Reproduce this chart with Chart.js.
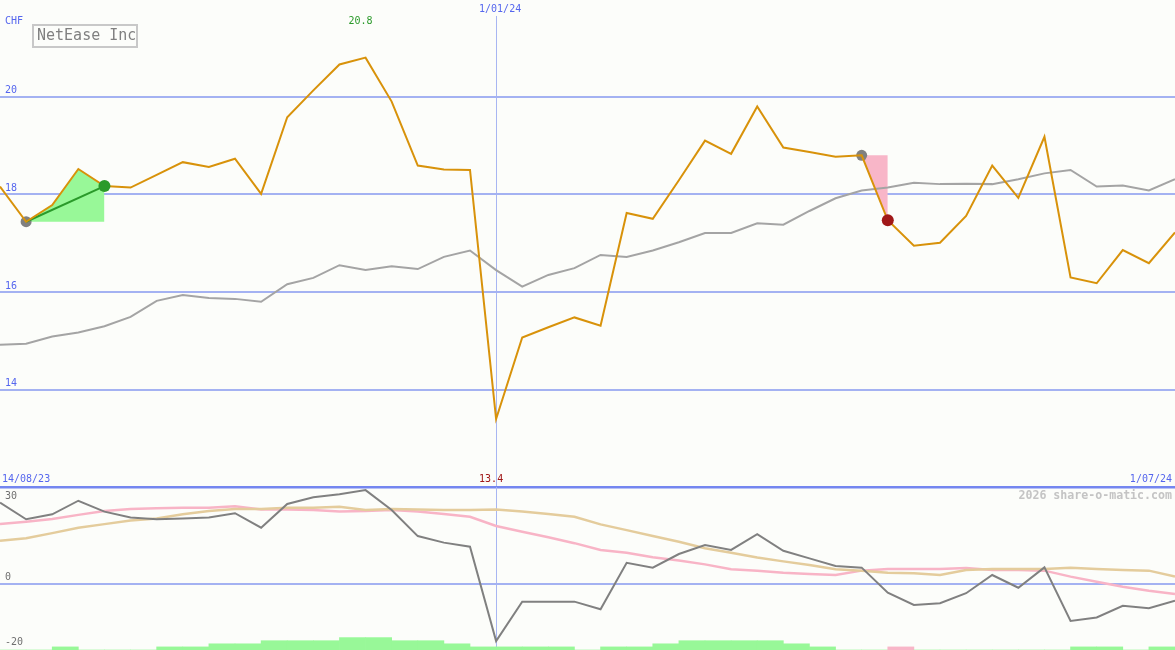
<!DOCTYPE html>
<html>
<head>
<meta charset="utf-8">
<script src="https://cdn.jsdelivr.net/npm/chart.js@4.4.1/dist/chart.umd.min.js"></script>
<style>
html, body { margin: 0; padding: 0; background: #fcfdfa; }
#wrap { position: relative; width: 1175px; height: 650px; overflow: hidden; background: #fcfdfa; }
#priceChart { position: absolute; left: 0; top: 0; }
#oscChart { position: absolute; left: 0; top: 487px; }
</style>
</head>
<body>
<div id="wrap">
  <canvas id="priceChart" width="1175" height="490"></canvas>
  <canvas id="oscChart" width="1175" height="163"></canvas>
</div>
<script>
// weekly closes, 14/08/23 .. 1/07/24
const company = 'NetEase Inc';
const currency = 'CHF';
const firstDate = '14/08/23';
const markDate = '1/01/24';
const lastDate = '1/07/24';
const markIndex = 19;

const price = [18.16, 17.44, 17.78, 18.52, 18.17, 18.14, 18.40, 18.66, 18.56, 18.73,
               18.01, 19.58, 20.13, 20.66, 20.80, 19.90, 18.59, 18.51, 18.50, 13.40,
               15.07, 15.28, 15.48, 15.31, 17.62, 17.50, 18.29, 19.10, 18.83, 19.80,
               18.96, 18.87, 18.77, 18.80, 17.47, 16.95, 17.01, 17.56, 18.59, 17.93,
               19.18, 16.30, 16.18, 16.86, 16.59, 17.22];
const average = [14.92, 14.94, 15.09, 15.17, 15.30, 15.49, 15.82, 15.94, 15.88, 15.86,
                 15.80, 16.16, 16.29, 16.55, 16.45, 16.53, 16.47, 16.72, 16.85, 16.45,
                 16.11, 16.35, 16.49, 16.76, 16.72, 16.85, 17.02, 17.21, 17.21, 17.41,
                 17.38, 17.66, 17.92, 18.08, 18.14, 18.24, 18.21, 18.22, 18.21, 18.31,
                 18.43, 18.50, 18.16, 18.18, 18.08, 18.31];
const priceTicks = [14, 16, 18, 20];

// buy / sell signals (index into price)
const buyStart = 1, buyEnd = 4;
const sellStart = 33, sellEnd = 34;

// lower panel
const oscFast = [29.8, 23.7, 25.5, 30.5, 26.5, 24.3, 23.7, 24.0, 24.3, 25.9,
                 20.6, 29.3, 31.8, 32.9, 34.4, 27.1, 17.5, 15.1, 13.6, -21.1,
                 -6.6, -6.6, -6.6, -9.4, 7.7, 5.9, 10.9, 14.2, 12.4, 18.2,
                 12.1, 9.3, 6.5, 5.9, -3.3, -7.8, -7.2, -3.5, 3.2, -1.5,
                 6.0, -13.7, -12.4, -8.1, -9.0, -6.3];
const oscSlow = [21.9, 22.8, 23.8, 25.3, 26.7, 27.5, 27.7, 27.9, 27.9, 28.5,
                 27.3, 27.3, 27.1, 26.5, 26.7, 27.1, 26.5, 25.6, 24.6, 21.2,
                 19.1, 17.1, 14.9, 12.4, 11.4, 9.7, 8.5, 7.1, 5.3, 4.8,
                 4.0, 3.6, 3.2, 4.8, 5.4, 5.4, 5.4, 5.8, 5.0, 5.0,
                 4.8, 2.6, 0.7, -1.1, -2.6, -3.8];
const oscSignal = [15.8, 16.7, 18.6, 20.6, 21.9, 23.2, 24.0, 25.5, 26.7, 27.5,
                   27.5, 27.9, 27.9, 28.3, 27.1, 27.5, 27.3, 27.1, 27.1, 27.3,
                   26.5, 25.6, 24.6, 21.8, 19.7, 17.5, 15.4, 13.0, 11.4, 9.6,
                   8.2, 6.9, 5.3, 4.8, 4.0, 3.8, 3.2, 5.0, 5.4, 5.4,
                   5.4, 5.9, 5.4, 5.0, 4.8, 2.6];
const oscTicks = [30, 0, -20];

// bottom strip, one value per week interval
const volumeLevel = [0, 0, 1, 0, 0, 0, 1, 1, 2, 2,
                     3, 3, 3, 4, 4, 3, 3, 2, 1, 1,
                     1, 1, 0, 1, 1, 2, 3, 3, 3, 3,
                     2, 1, 0, 0, 1, 0, 0, 0, 0, 0,
                     0, 1, 1, 0, 1];
const volumeSell = [34];

const FONT = '"DejaVu Sans Mono", monospace';
const BLUE = '#5566ee';

const pts = (arr, a, b) => arr.slice(a, b + 1).map((v, k) => ({ x: a + k, y: v }));
const maxIdx = price.indexOf(Math.max(...price));
const minIdx = price.indexOf(Math.min(...price));

const priceText = {
  id: 'priceText',
  afterDraw(chart) {
    const ctx = chart.ctx;
    const xs = chart.scales.x;
    const ys = chart.scales.y;
    ctx.save();
    ctx.textBaseline = 'middle';
    ctx.font = '10px ' + FONT;
    ctx.fillStyle = BLUE;
    ctx.textAlign = 'left';
    ctx.fillText(currency, 5, 21);
    priceTicks.forEach(v => ctx.fillText(String(v), 5, ys.getPixelForValue(v) - 6));
    ctx.fillText(firstDate, 2, 479);
    ctx.textAlign = 'center';
    ctx.fillText(markDate, xs.getPixelForValue(markIndex) + 4, 9);
    ctx.textAlign = 'right';
    ctx.fillText(lastDate, 1172, 479);
    ctx.textAlign = 'center';
    ctx.fillStyle = '#2a9a2a';
    ctx.fillText(price[maxIdx].toFixed(1), xs.getPixelForValue(maxIdx) - 5, 21);
    ctx.fillStyle = '#a01818';
    ctx.fillText(price[minIdx].toFixed(1), xs.getPixelForValue(minIdx) - 5, 479);
    // title box
    ctx.fillStyle = '#fcfdfa';
    ctx.fillRect(33, 25, 104, 22);
    ctx.strokeStyle = '#c8c8c8';
    ctx.lineWidth = 2;
    ctx.strokeRect(33, 25, 104, 22);
    ctx.fillStyle = '#808080';
    ctx.font = '15px ' + FONT;
    ctx.textAlign = 'left';
    ctx.fillText(company, 37, 36.5);
    ctx.restore();
  }
};

new Chart(document.getElementById('priceChart'), {
  type: 'line',
  data: {
    datasets: [
      { // exit / confirm dots
        data: [{ x: buyEnd, y: price[buyEnd] }, { x: sellEnd, y: price[sellEnd] }],
        showLine: false, pointRadius: 6, pointBorderWidth: 0,
        pointBackgroundColor: ['#2a9a2a', '#a01818']
      },
      {
        data: pts(price, 0, price.length - 1),
        borderColor: '#d8920a', borderWidth: 2, pointRadius: 0, tension: 0
      },
      {
        data: [{ x: buyStart, y: price[buyStart] }, { x: buyEnd, y: price[buyEnd] }],
        borderColor: '#2a9a2a', borderWidth: 2, pointRadius: 0
      },
      { // entry dots
        data: [{ x: buyStart, y: price[buyStart] }, { x: sellStart, y: price[sellStart] }],
        showLine: false, pointRadius: 5.5, pointBorderWidth: 0,
        pointBackgroundColor: '#808080'
      },
      {
        data: pts(average, 0, average.length - 1),
        borderColor: '#a4a4a4', borderWidth: 2, pointRadius: 0, tension: 0
      },
      {
        data: pts(price, buyStart, buyEnd),
        borderWidth: 0, pointRadius: 0,
        backgroundColor: '#98f898',
        fill: { target: { value: price[buyStart] } }
      },
      {
        data: [{ x: sellStart, y: price[sellStart] }, { x: sellEnd, y: price[sellStart] }],
        borderWidth: 0, pointRadius: 0,
        backgroundColor: '#f8b6c8',
        fill: '+1'
      },
      {
        data: pts(price, sellStart, sellEnd),
        borderWidth: 0, pointRadius: 0
      }
    ]
  },
  options: {
    responsive: false,
    animation: false,
    events: [],
    layout: { autoPadding: false, padding: { top: 16, left: 0, right: 0, bottom: 0 } },
    plugins: { legend: { display: false }, tooltip: { enabled: false } },
    scales: {
      x: {
        type: 'linear', min: 0, max: price.length - 1,
        border: { display: false },
        ticks: { display: false },
        grid: { drawTicks: false, color: '#a8b6f2', lineWidth: 1 },
        afterBuildTicks: s => { s.ticks = [{ value: markIndex }]; },
        afterFit: s => { s.height = 0; }
      },
      y: {
        min: 11.946, max: 21.653,
        border: { display: false },
        ticks: { display: false },
        grid: {
          drawTicks: false,
          color: c => c.tick.value === 12 ? '#7486f0' : '#a4b2f2',
          lineWidth: c => c.tick.value === 12 ? 2.5 : 2
        },
        afterBuildTicks: s => { s.ticks = [12, ...priceTicks].map(v => ({ value: v })); },
        afterFit: s => { s.width = 0; }
      }
    }
  },
  plugins: [priceText]
});

const oscText = {
  id: 'oscText',
  afterDraw(chart) {
    const ctx = chart.ctx;
    const ys = chart.scales.y;
    ctx.save();
    ctx.textBaseline = 'middle';
    ctx.font = '10px ' + FONT;
    ctx.fillStyle = '#707070';
    ctx.textAlign = 'left';
    oscTicks.forEach(v => {
      const py = v < 0 ? chart.chartArea.bottom - 8 : ys.getPixelForValue(v) - 6;
      ctx.fillText(String(v), 5, py);
    });
    ctx.font = 'bold 11.6px ' + FONT;
    ctx.fillStyle = '#c4c4c4';
    ctx.textAlign = 'right';
    ctx.fillText('2026 share-o-matic.com', 1172, 9);
    ctx.restore();
  }
};

new Chart(document.getElementById('oscChart'), {
  type: 'line',
  data: {
    datasets: [
      {
        data: pts(oscFast, 0, oscFast.length - 1),
        borderColor: '#808080', borderWidth: 2, pointRadius: 0
      },
      {
        data: pts(oscSignal, 0, oscSignal.length - 1),
        borderColor: '#e4cc9c', borderWidth: 2.5, pointRadius: 0
      },
      {
        data: pts(oscSlow, 0, oscSlow.length - 1),
        borderColor: '#f8b4c6', borderWidth: 2.5, pointRadius: 0
      },
      {
        type: 'bar',
        yAxisID: 'yBar',
        data: volumeLevel.map((v, i) => ({ x: i + 0.5, y: v })),
        backgroundColor: volumeLevel.map((v, i) => volumeSell.includes(i) ? '#f8b6c8' : '#98f898'),
        borderWidth: 0,
        barPercentage: 1,
        categoryPercentage: 1
      }
    ]
  },
  options: {
    responsive: false,
    animation: false,
    events: [],
    layout: { autoPadding: false, padding: 0 },
    plugins: { legend: { display: false }, tooltip: { enabled: false } },
    scales: {
      x: {
        type: 'linear', min: 0, max: price.length - 1, offset: false,
        border: { display: false },
        ticks: { display: false },
        grid: { drawTicks: false, color: '#a8b6f2', lineWidth: 1, offset: false },
        afterBuildTicks: s => { s.ticks = [{ value: markIndex }]; },
        afterFit: s => { s.height = 0; }
      },
      y: {
        min: -24.38, max: 35.55,
        border: { display: false },
        ticks: { display: false },
        grid: { drawTicks: false, color: '#a4b2f2', lineWidth: 2 },
        afterBuildTicks: s => { s.ticks = [{ value: 0 }]; },
        afterFit: s => { s.width = 0; }
      },
      yBar: {
        min: 0, max: 52.6, display: false
      }
    }
  },
  plugins: [oscText]
});
</script>
</body>
</html>
